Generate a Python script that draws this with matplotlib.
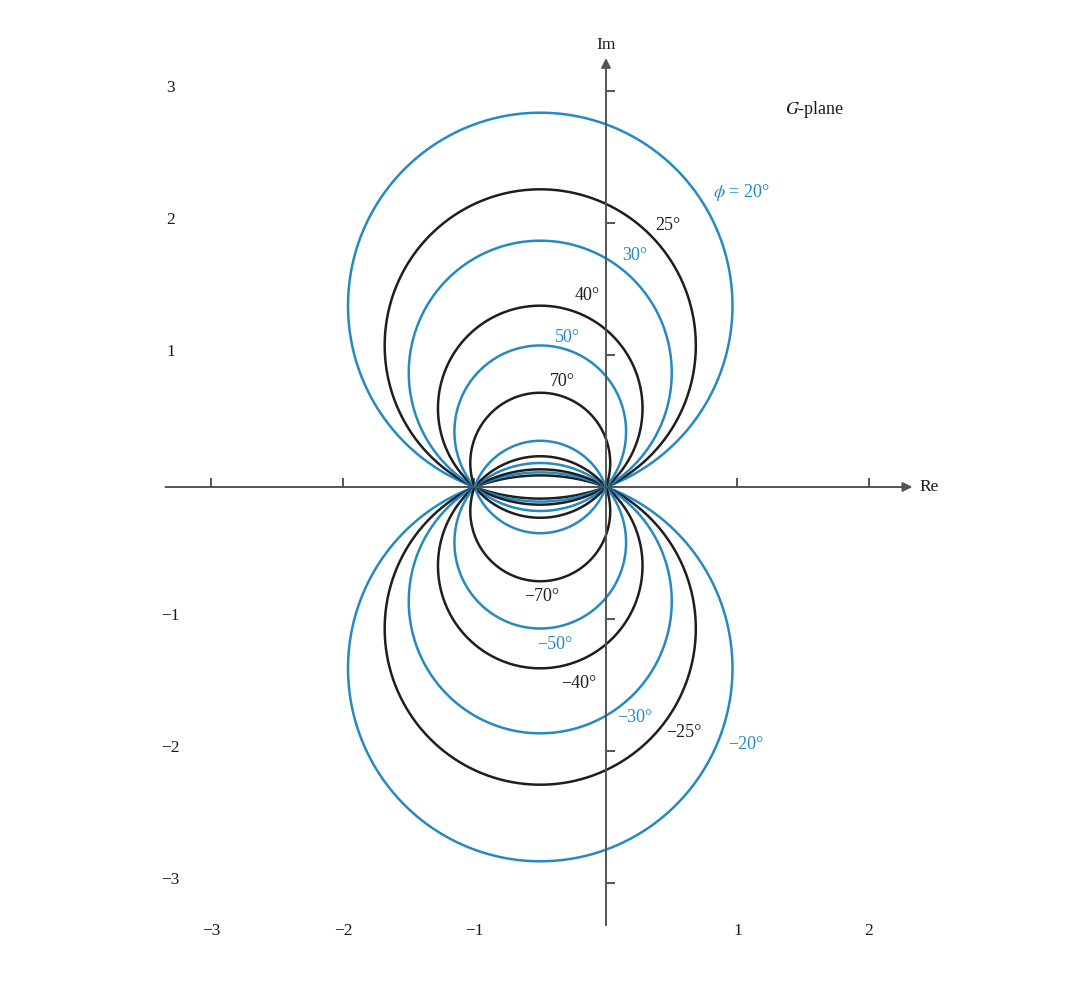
import numpy as np
import matplotlib
matplotlib.use("Agg")
import matplotlib.pyplot as plt

plt.rcParams['font.family'] = ['Liberation Serif', 'DejaVu Serif']
plt.rcParams['mathtext.fontset'] = 'stix'

# phase angles (degrees) of constant-phase (N) circles
phis = [20, 25, 30, 40, 50, 70]
outer_colors = ['blue', 'black', 'blue', 'black', 'blue', 'black']
inner_colors = ['black', 'blue', 'black', 'blue', 'black', 'blue']
labels_pos = ['$\\phi$ = 20°', '25°', '30°', '40°', '50°', '70°']
labels_neg = ['−20°', '−25°', '−30°', '−40°', '−50°', '−70°']
lab_pos_xy = [(1.03, 2.23), (0.47, 1.98), (0.22, 1.75), (-0.14, 1.45), (-0.29, 1.13), (-0.33, 0.80)]
lab_neg_xy = [(1.06, -1.95), (0.59, -1.86), (0.22, -1.75), (-0.21, -1.49), (-0.39, -1.19), (-0.49, -0.83)]
xticks = [-3, -2, -1, 1, 2]
yticks = [-3, -2, -1, 1, 2, 3]

cmap = {'blue': '#2589c2', 'black': '#1e1e1e'}

fig = plt.figure(figsize=(10.66, 9.86), dpi=100)
ax = fig.add_axes([0, 0, 1, 1])
ax.set_xlim(-606 / 131.5, (1066 - 606) / 131.5)
ax.set_ylim((487 - 986) / 132.0, 487 / 132.0)
ax.axis('off')

axc = '#555555'
txtc = '#1a1a1a'
# axes lines with arrows
ax.annotate('', xy=(2.33, 0), xytext=(-3.35, 0),
            arrowprops=dict(arrowstyle='-|>', color=axc, lw=1.4, mutation_scale=14, shrinkA=0, shrinkB=0))
ax.annotate('', xy=(0, 3.25), xytext=(0, -3.32),
            arrowprops=dict(arrowstyle='-|>', color=axc, lw=1.4, mutation_scale=14, shrinkA=0, shrinkB=0))
for xt in xticks:
    ax.plot([xt, xt], [0, 0.06], color=axc, lw=1.4)
    ax.text(xt, -3.36, str(xt).replace('-', '−'), ha='center', va='center', fontsize=12.5, color=txtc)
for yt in yticks:
    ax.plot([0, 0.06], [yt, yt], color=axc, lw=1.4)
    ax.text(-3.31, yt + 0.02, str(yt).replace('-', '−'), ha='center', va='center', fontsize=12.5, color=txtc)

ax.text(0, 3.35, 'Im', ha='center', va='center', fontsize=12.5, color=txtc)
ax.text(2.46, 0, 'Re', ha='center', va='center', fontsize=12.5, color=txtc)
ax.text(1.59, 2.86, '$G$-plane', ha='center', va='center', fontsize=13, color=txtc)

for i, phi in enumerate(phis):
    N = np.tan(np.radians(phi))
    cy = 1.0 / (2 * N)
    r = np.sqrt(0.25 + 1.0 / (4 * N * N))
    a0 = np.arctan2(-cy, 0.5)     # angle of point (0, 0)
    a1 = np.arctan2(-cy, -0.5)    # angle of point (-1, 0)
    t_out = np.linspace(a0, a1 + 2 * np.pi, 800)
    t_in = np.linspace(a1, a0, 300)
    for sign in (1, -1):
        xo = -0.5 + r * np.cos(t_out)
        yo = sign * (cy + r * np.sin(t_out))
        xi = -0.5 + r * np.cos(t_in)
        yi = sign * (cy + r * np.sin(t_in))
        ax.plot(xo, yo, color=cmap[outer_colors[i]], lw=1.8, solid_capstyle='round')
        ax.plot(xi, yi, color=cmap[inner_colors[i]], lw=1.8, solid_capstyle='round')
    ax.text(*lab_pos_xy[i], labels_pos[i], ha='center', va='center', fontsize=13,
            color=cmap[outer_colors[i]])
    ax.text(*lab_neg_xy[i], labels_neg[i], ha='center', va='center', fontsize=13,
            color=cmap[outer_colors[i]])

fig.savefig('out.png', dpi=100)
